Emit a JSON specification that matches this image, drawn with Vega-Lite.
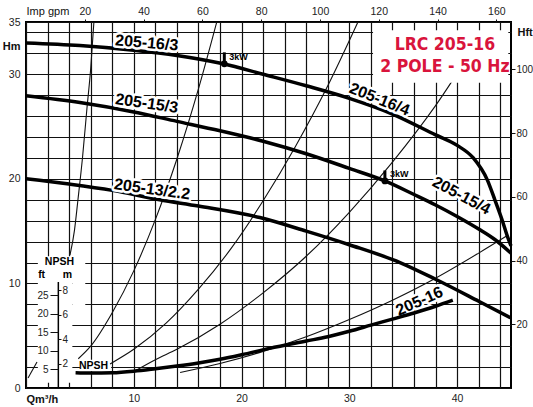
{
  "$schema": "https://vega.github.io/schema/vega-lite/v6.json",
  "width": 485,
  "height": 366,
  "autosize": {"type": "none"},
  "padding": {"left": 26, "top": 22, "right": 22, "bottom": 19},
  "background": "white",
  "config": {
    "view": {"stroke": "#000", "strokeWidth": 2},
    "axis": {"labelFont": "Liberation Sans", "labelFontSize": 10.5, "labelColor": "#222", "titleFont": "Liberation Sans", "titleFontSize": 11, "titleColor": "#111", "titleFontWeight": "bold", "domain": false, "ticks": false, "grid": false, "tickColor": "#111"}
  },
  "datasets": {
    "heads": [
      {"curve": "205-16", "Q": 0, "H": 33.0}, {"curve": "205-16", "Q": 5, "H": 32.75}, {"curve": "205-16", "Q": 10, "H": 32.3}, {"curve": "205-16", "Q": 14, "H": 31.8}, {"curve": "205-16", "Q": 18.3, "H": 31.0}, {"curve": "205-16", "Q": 22, "H": 30.0}, {"curve": "205-16", "Q": 26, "H": 28.9}, {"curve": "205-16", "Q": 30, "H": 27.7}, {"curve": "205-16", "Q": 34, "H": 26.2}, {"curve": "205-16", "Q": 38, "H": 24.2}, {"curve": "205-16", "Q": 40, "H": 23.2}, {"curve": "205-16", "Q": 41.5, "H": 22.0}, {"curve": "205-16", "Q": 42.8, "H": 19.9}, {"curve": "205-16", "Q": 43.5, "H": 18.0}, {"curve": "205-16", "Q": 44.2, "H": 16.0}, {"curve": "205-16", "Q": 44.7, "H": 14.4}, {"curve": "205-16", "Q": 45, "H": 13.6},
      {"curve": "205-15", "Q": 0, "H": 27.95}, {"curve": "205-15", "Q": 5, "H": 27.3}, {"curve": "205-15", "Q": 10, "H": 26.4}, {"curve": "205-15", "Q": 14, "H": 25.5}, {"curve": "205-15", "Q": 18, "H": 24.6}, {"curve": "205-15", "Q": 22, "H": 23.6}, {"curve": "205-15", "Q": 26, "H": 22.4}, {"curve": "205-15", "Q": 30, "H": 21.0}, {"curve": "205-15", "Q": 33.3, "H": 19.8}, {"curve": "205-15", "Q": 36, "H": 18.5}, {"curve": "205-15", "Q": 38, "H": 17.5}, {"curve": "205-15", "Q": 40, "H": 16.4}, {"curve": "205-15", "Q": 42, "H": 15.2}, {"curve": "205-15", "Q": 43.5, "H": 14.2}, {"curve": "205-15", "Q": 45, "H": 12.9},
      {"curve": "205-13", "Q": 0, "H": 20.0}, {"curve": "205-13", "Q": 4, "H": 19.5}, {"curve": "205-13", "Q": 8, "H": 18.9}, {"curve": "205-13", "Q": 12.4, "H": 18.0}, {"curve": "205-13", "Q": 16, "H": 17.4}, {"curve": "205-13", "Q": 21.7, "H": 16.3}, {"curve": "205-13", "Q": 26, "H": 15.0}, {"curve": "205-13", "Q": 30, "H": 13.7}, {"curve": "205-13", "Q": 34.7, "H": 12.0}, {"curve": "205-13", "Q": 38, "H": 10.4}, {"curve": "205-13", "Q": 42, "H": 8.3}, {"curve": "205-13", "Q": 45, "H": 6.7}
    ],
    "system": [
      {"curve": "s1a", "Q": 4.08, "H": 12.7}, {"curve": "s1a", "Q": 4.5, "H": 15.1}, {"curve": "s1a", "Q": 4.82, "H": 18.0}, {"curve": "s1a", "Q": 5.24, "H": 22.0}, {"curve": "s1a", "Q": 5.66, "H": 26.8}, {"curve": "s1a", "Q": 6.0, "H": 30.5}, {"curve": "s1a", "Q": 6.3, "H": 35.0},
      {"curve": "s1b", "Q": 0.19, "H": 0.96}, {"curve": "s1b", "Q": 1.02, "H": 2.49},
      {"curve": "s2", "Q": 4.85, "H": 2.8}, {"curve": "s2", "Q": 6, "H": 4.0}, {"curve": "s2", "Q": 8, "H": 7.2}, {"curve": "s2", "Q": 10, "H": 11.2}, {"curve": "s2", "Q": 12, "H": 16.1}, {"curve": "s2", "Q": 14, "H": 21.9}, {"curve": "s2", "Q": 16, "H": 28.6}, {"curve": "s2", "Q": 17.7, "H": 35.0},
      {"curve": "s3", "Q": 7.8, "H": 2.3}, {"curve": "s3", "Q": 10, "H": 3.7}, {"curve": "s3", "Q": 13, "H": 6.2}, {"curve": "s3", "Q": 16, "H": 9.45}, {"curve": "s3", "Q": 19, "H": 13.3}, {"curve": "s3", "Q": 22, "H": 17.9}, {"curve": "s3", "Q": 25, "H": 23.1}, {"curve": "s3", "Q": 28, "H": 28.9}, {"curve": "s3", "Q": 30.8, "H": 35.0},
      {"curve": "s4", "Q": 9.9, "H": 1.5}, {"curve": "s4", "Q": 12, "H": 2.7}, {"curve": "s4", "Q": 14, "H": 3.7}, {"curve": "s4", "Q": 18, "H": 6.1}, {"curve": "s4", "Q": 22, "H": 9.1}, {"curve": "s4", "Q": 26, "H": 12.6}, {"curve": "s4", "Q": 30, "H": 16.8}, {"curve": "s4", "Q": 34, "H": 21.6}, {"curve": "s4", "Q": 38, "H": 27.0}, {"curve": "s4", "Q": 41.5, "H": 32.5},
      {"curve": "s5", "Q": 14.3, "H": 1.49}, {"curve": "s5", "Q": 18, "H": 2.35}, {"curve": "s5", "Q": 22, "H": 3.5}, {"curve": "s5", "Q": 26, "H": 4.9}, {"curve": "s5", "Q": 30, "H": 6.55}, {"curve": "s5", "Q": 34, "H": 8.4}, {"curve": "s5", "Q": 38, "H": 10.5}, {"curve": "s5", "Q": 42, "H": 12.9}, {"curve": "s5", "Q": 44.7, "H": 14.6}
    ],
    "npsh": [
      {"Q": 4.6, "m": 1.25}, {"Q": 6, "m": 1.22}, {"Q": 8, "m": 1.25}, {"Q": 10, "m": 1.38}, {"Q": 12, "m": 1.58}, {"Q": 14, "m": 1.8}, {"Q": 16, "m": 2.05}, {"Q": 18, "m": 2.35}, {"Q": 20, "m": 2.72}, {"Q": 22.6, "m": 3.25}, {"Q": 26, "m": 3.85}, {"Q": 28, "m": 4.2}, {"Q": 30, "m": 4.65}, {"Q": 32, "m": 5.15}, {"Q": 34, "m": 5.65}, {"Q": 36, "m": 6.15}, {"Q": 38, "m": 6.7}, {"Q": 39.6, "m": 7.2}
    ],
    "npshText": [
      {"text": "NPSH", "Q": 3.1, "m": 10.3},
      {"text": "ft", "Q": 1.45, "m": 9.26},
      {"text": "m", "Q": 3.85, "m": 9.26},
      {"text": "NPSH", "Q": 6.26, "m": 1.8}
    ],
    "masks": [
      {"Q": 1.1, "Q2": 4.3, "H": 0.5, "H2": 12.6},
      {"Q": 4.3, "Q2": 5.5, "H": 6.5, "H2": 12.6},
      {"Q": 5.0, "Q2": 7.9, "H": 1.6, "H2": 2.7}
    ],
    "box": [{"Q": 32.2, "Q2": 44.75, "H": 29.2, "H2": 34.2}],
    "title": [
      {"text": "LRC 205-16", "Q": 38.87, "H": 32.8},
      {"text": "2 POLE - 50 Hz", "Q": 38.87, "H": 30.7}
    ],
    "clabels": [
      {"label": "205-16/3", "Q": 11.2, "H": 33.0},
      {"label": "205-15/3", "Q": 11.2, "H": 27.2},
      {"label": "205-13/2.2", "Q": 11.7, "H": 19.0},
      {"label": "205-16/4", "Q": 32.8, "H": 27.6},
      {"label": "205-15/4", "Q": 40.4, "H": 18.4},
      {"label": "205-16", "Q": 36.5, "H": 8.3}
    ],
    "kw": [
      {"Q": 18.4, "H": 31.0, "Ht": 32.1, "text": "3kW"},
      {"Q": 33.3, "H": 19.8, "Ht": 20.8, "text": "3kW"}
    ],
    "inset": [{"Q": 3.0, "ft": 0, "ft2": 28.5}],
    "units": [{"gpm": 0, "ft": 0}]
  },
  "resolve": {"scale": {"x": "independent", "y": "independent"}},
  "layer": [
    {
      "encoding": {
        "x": {"field": "Q", "type": "quantitative", "scale": {"domain": [0, 45], "nice": false, "zero": false},
          "axis": {"orient": "bottom", "values": [0,2,4,6,8,10,12,14,16,18,20,22,24,26,28,30,32,34,36,38,40,42,44], "grid": true, "gridColor": "#111", "gridWidth": 1.2, "labelExpr": "datum.value % 10 === 0 && datum.value > 0 ? datum.label : ''", "labelPadding": 5, "title": "Qm³/h", "titleAnchor": "start", "titleAlign": "left", "titleX": 0, "titleY": 11, "titleBaseline": "middle"}},
        "y": {"field": "H", "type": "quantitative", "scale": {"domain": [0, 35], "nice": false, "zero": false},
          "axis": {"orient": "left", "values": [0,2,4,6,8,10,12,14,16,18,20,22,24,26,28,30,32,34,35], "grid": true, "gridColor": "#111", "gridWidth": 1.2, "labelExpr": "datum.value % 10 === 0 || datum.value === 35 ? datum.label : ''", "labelPadding": 6, "title": "Hm", "titleAngle": 0, "titleAlign": "right", "titleX": -6, "titleY": 24, "titleBaseline": "middle"}}
      },
      "layer": [
        {"data": {"name": "masks"}, "mark": {"type": "rect", "fill": "white", "stroke": null}, "encoding": {"x2": {"field": "Q2"}, "y2": {"field": "H2"}}},
        {"data": {"name": "system"}, "mark": {"type": "line", "stroke": "#111", "strokeWidth": 1.1, "interpolate": "monotone"}, "encoding": {"detail": {"field": "curve"}}},
        {"data": {"name": "heads"}, "mark": {"type": "line", "stroke": "#000", "strokeWidth": 3.5, "interpolate": "monotone"}, "encoding": {"detail": {"field": "curve"}}},
        {"data": {"name": "box"}, "mark": {"type": "rect", "fill": "white", "stroke": null}, "encoding": {"x2": {"field": "Q2"}, "y2": {"field": "H2"}}},
        {"data": {"name": "title"}, "mark": {"type": "text", "font": "'DejaVu Sans Condensed', 'Roboto Condensed', 'Liberation Sans'", "fontWeight": "bold", "fontSize": 17.5, "fill": "#d9143c", "align": "center", "baseline": "middle"}, "encoding": {"text": {"field": "text"}}},
        {"data": {"name": "clabels"}, "transform": [{"filter": "datum.label === '205-16/3'"}], "mark": {"type": "text", "angle": 5, "font": "Liberation Sans", "fontSize": 16, "fontWeight": "bold", "fill": "white", "stroke": "white", "strokeWidth": 5, "strokeJoin": "round"}, "encoding": {"text": {"field": "label"}}},
        {"data": {"name": "clabels"}, "transform": [{"filter": "datum.label === '205-16/3'"}], "mark": {"type": "text", "angle": 5, "font": "Liberation Sans", "fontSize": 16, "fontWeight": "bold", "fill": "#000"}, "encoding": {"text": {"field": "label"}}},
        {"data": {"name": "clabels"}, "transform": [{"filter": "datum.label === '205-15/3'"}], "mark": {"type": "text", "angle": 8, "font": "Liberation Sans", "fontSize": 16, "fontWeight": "bold", "fill": "white", "stroke": "white", "strokeWidth": 5, "strokeJoin": "round"}, "encoding": {"text": {"field": "label"}}},
        {"data": {"name": "clabels"}, "transform": [{"filter": "datum.label === '205-15/3'"}], "mark": {"type": "text", "angle": 8, "font": "Liberation Sans", "fontSize": 16, "fontWeight": "bold", "fill": "#000"}, "encoding": {"text": {"field": "label"}}},
        {"data": {"name": "clabels"}, "transform": [{"filter": "datum.label === '205-13/2.2'"}], "mark": {"type": "text", "angle": 8, "font": "Liberation Sans", "fontSize": 16, "fontWeight": "bold", "fill": "white", "stroke": "white", "strokeWidth": 5, "strokeJoin": "round"}, "encoding": {"text": {"field": "label"}}},
        {"data": {"name": "clabels"}, "transform": [{"filter": "datum.label === '205-13/2.2'"}], "mark": {"type": "text", "angle": 8, "font": "Liberation Sans", "fontSize": 16, "fontWeight": "bold", "fill": "#000"}, "encoding": {"text": {"field": "label"}}},
        {"data": {"name": "clabels"}, "transform": [{"filter": "datum.label === '205-16/4'"}], "mark": {"type": "text", "angle": 22, "font": "Liberation Sans", "fontSize": 16, "fontWeight": "bold", "fill": "white", "stroke": "white", "strokeWidth": 5, "strokeJoin": "round"}, "encoding": {"text": {"field": "label"}}},
        {"data": {"name": "clabels"}, "transform": [{"filter": "datum.label === '205-16/4'"}], "mark": {"type": "text", "angle": 22, "font": "Liberation Sans", "fontSize": 16, "fontWeight": "bold", "fill": "#000"}, "encoding": {"text": {"field": "label"}}},
        {"data": {"name": "clabels"}, "transform": [{"filter": "datum.label === '205-15/4'"}], "mark": {"type": "text", "angle": 28, "font": "Liberation Sans", "fontSize": 16, "fontWeight": "bold", "fill": "white", "stroke": "white", "strokeWidth": 5, "strokeJoin": "round"}, "encoding": {"text": {"field": "label"}}},
        {"data": {"name": "clabels"}, "transform": [{"filter": "datum.label === '205-15/4'"}], "mark": {"type": "text", "angle": 28, "font": "Liberation Sans", "fontSize": 16, "fontWeight": "bold", "fill": "#000"}, "encoding": {"text": {"field": "label"}}},
        {"data": {"name": "clabels"}, "transform": [{"filter": "datum.label === '205-16'"}], "mark": {"type": "text", "angle": -24, "font": "Liberation Sans", "fontSize": 16, "fontWeight": "bold", "fill": "white", "stroke": "white", "strokeWidth": 5, "strokeJoin": "round"}, "encoding": {"text": {"field": "label"}}},
        {"data": {"name": "clabels"}, "transform": [{"filter": "datum.label === '205-16'"}], "mark": {"type": "text", "angle": -24, "font": "Liberation Sans", "fontSize": 16, "fontWeight": "bold", "fill": "#000"}, "encoding": {"text": {"field": "label"}}},
        {"data": {"name": "kw"}, "mark": {"type": "rule", "stroke": "#000", "strokeWidth": 3}, "encoding": {"y2": {"field": "Ht"}}},
        {"data": {"name": "kw"}, "mark": {"type": "point", "filled": true, "fill": "#000", "stroke": null, "size": 45, "opacity": 1}},
        {"data": {"name": "kw"}, "mark": {"type": "text", "font": "Liberation Sans", "fontSize": 9, "fontWeight": "bold", "fill": "#000", "align": "left", "dx": 5, "dy": -7}, "encoding": {"text": {"field": "text"}}}
      ]
    },
    {
      "encoding": {
        "x": {"field": "Q", "type": "quantitative", "scale": {"domain": [0, 45], "nice": false, "zero": false}, "axis": null},
        "y": {"field": "m", "type": "quantitative", "scale": {"domain": [0, 30], "nice": false, "zero": false},
          "axis": {"orient": "right", "offset": -453, "values": [2, 4, 6, 8], "ticks": true, "tickSize": 3, "tickWidth": 1, "labelPadding": 1, "labelFont": "Liberation Sans", "labelFontSize": 10, "title": null, "zindex": 1}}
      },
      "layer": [
        {"data": {"name": "npsh"}, "mark": {"type": "line", "stroke": "#000", "strokeWidth": 3.5, "interpolate": "monotone"}},
        {"data": {"name": "npshText"}, "mark": {"type": "text", "font": "Liberation Sans", "fontSize": 10.5, "fontWeight": "bold", "fill": "#000"}, "encoding": {"text": {"field": "text"}}}
      ]
    },
    {
      "data": {"name": "inset"},
      "mark": {"type": "rule", "stroke": "#000", "strokeWidth": 1.5},
      "encoding": {
        "x": {"field": "Q", "type": "quantitative", "scale": {"domain": [0, 45], "nice": false, "zero": false}, "axis": null},
        "y": {"field": "ft", "type": "quantitative", "scale": {"domain": [0, 98.43], "nice": false, "zero": false},
          "axis": {"orient": "left", "offset": -32, "values": [5, 10, 15, 20, 25], "ticks": true, "tickSize": 8, "tickWidth": 1, "labelPadding": 2, "labelFont": "Liberation Sans", "labelFontSize": 10, "title": null, "zindex": 1}},
        "y2": {"field": "ft2"}
      }
    },
    {
      "data": {"name": "units"},
      "mark": {"type": "point", "opacity": 0},
      "encoding": {
        "x": {"field": "gpm", "type": "quantitative", "scale": {"domain": [0, 164.97], "nice": false, "zero": false},
          "axis": {"orient": "top", "values": [20, 40, 60, 80, 100, 120, 140, 160], "ticks": true, "tickSize": 3, "labelPadding": 3, "title": "Imp gpm", "titleFontWeight": "normal", "titleAnchor": "start", "titleAlign": "left", "titleX": 0, "titleY": -11, "titleBaseline": "middle"}},
        "y": {"field": "ft", "type": "quantitative", "scale": {"domain": [0, 114.83], "nice": false, "zero": false},
          "axis": {"orient": "right", "values": [20, 40, 60, 80, 100], "ticks": true, "tickSize": 4, "labelPadding": 1, "labelFontSize": 10, "title": "Hft", "titleAngle": 0, "titleAlign": "left", "titleX": 6, "titleY": 10, "titleBaseline": "middle"}}
      }
    }
  ]
}
